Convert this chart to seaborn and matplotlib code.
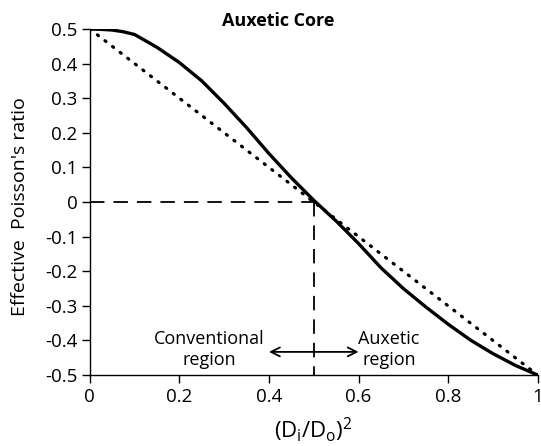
import matplotlib
matplotlib.use("Agg")
import matplotlib.pyplot as plt
import seaborn as sns
import pandas as pd
import numpy as np

# Data
ratio = [0.0, 0.025, 0.05, 0.075, 0.10, 0.15, 0.20, 0.25, 0.30, 0.35, 0.40, 0.45, 0.50,
         0.55, 0.60, 0.65, 0.70, 0.75, 0.80, 0.85, 0.90, 0.95, 1.0]
nu_solid = [0.5, 0.499, 0.497, 0.492, 0.484, 0.447, 0.403, 0.350, 0.285, 0.215, 0.140, 0.070, 0.005,
            -0.055, -0.120, -0.190, -0.250, -0.303, -0.353, -0.399, -0.438, -0.472, -0.5]
line_x = [0.0, 1.0]
nu_dotted = [0.5, -0.5]
x_ticks = [0, 0.2, 0.4, 0.6, 0.8, 1]
x_tick_labels = ["0", "0.2", "0.4", "0.6", "0.8", "1"]
y_ticks = [0.5, 0.4, 0.3, 0.2, 0.1, 0, -0.1, -0.2, -0.3, -0.4, -0.5]
y_tick_labels = ["0.5", "0.4", "0.3", "0.2", "0.1", "0", "-0.1", "-0.2", "-0.3", "-0.4", "-0.5"]
crossing = 0.5

sns.set_style("ticks")
plt.rcParams['font.family'] = ['Open Sans', 'DejaVu Sans']
plt.rcParams['mathtext.fontset'] = 'custom'
plt.rcParams['mathtext.rm'] = 'Open Sans'
plt.rcParams['text.color'] = 'black'

fig = plt.figure(figsize=(5.41, 4.46), dpi=100)
ax = fig.add_axes([0.166, 0.159, 0.828, 0.776])

df_solid = pd.DataFrame({"x": ratio, "nu": nu_solid})
df_dot = pd.DataFrame({"x": line_x, "nu": nu_dotted})
sns.lineplot(data=df_solid, x="x", y="nu", ax=ax, color="black", lw=2.4)
sns.lineplot(data=df_dot, x="x", y="nu", ax=ax, color="black", lw=2.3,
             linestyle=(0, (0.4, 2.6)), dash_capstyle="round")
ax.plot([0, crossing], [0, 0], color="black", lw=1.3, dashes=(8, 5))
ax.plot([crossing, crossing], [0, -0.5], color="black", lw=1.3, dashes=(8, 5))

ax.annotate("", xy=(0.4, -0.433), xytext=(0.6, -0.433),
            arrowprops=dict(arrowstyle="<->", color="black", lw=1.3,
                            shrinkA=0, shrinkB=0, mutation_scale=16))
ax.text(0.266, -0.425, "Conventional\nregion", ha="center", va="center",
        fontsize=13, linespacing=1.2, color="black")
ax.text(0.668, -0.425, "Auxetic\nregion", ha="center", va="center",
        fontsize=13, linespacing=1.2, color="black")

ax.set_xlim(0, 1)
ax.set_ylim(-0.5, 0.5)
ax.set_xticks(x_ticks)
ax.set_xticklabels(x_tick_labels)
ax.set_yticks(y_ticks)
ax.set_yticklabels(y_tick_labels)
ax.tick_params(axis="both", direction="out", length=6, width=1, labelsize=13.5,
               color="black", labelcolor="black", pad=3)
for s in ["top", "right"]:
    ax.spines[s].set_visible(False)
for s in ["left", "bottom"]:
    ax.spines[s].set_color("black")
    ax.spines[s].set_linewidth(1)

ax.set_xlabel(r"(D$_\mathrm{i}$/D$_\mathrm{o}$)$^2$", fontsize=16, color="black", va="center")
ax.xaxis.set_label_coords(0.5, -0.158)
ax.set_ylabel("Effective  Poisson's ratio", fontsize=14, color="black", va="center")
ax.yaxis.set_label_coords(-0.155, 0.486)
fig.text(278 / 541, 1 - 21 / 446, "Auxetic Core", ha="center", va="center",
         fontsize=13, fontweight="bold", color="black")

fig.savefig("out.png", dpi=100)
